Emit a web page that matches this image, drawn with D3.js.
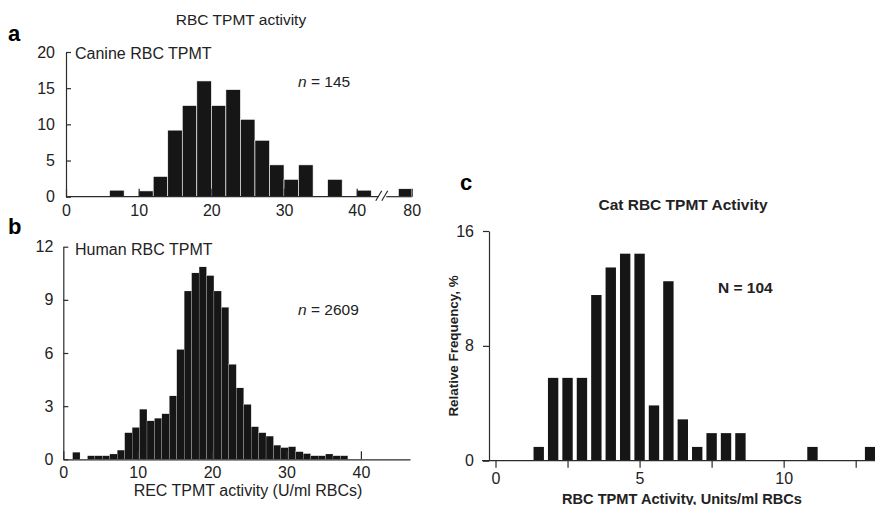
<!DOCTYPE html>
<html>
<head>
<meta charset="utf-8">
<script src="https://cdn.jsdelivr.net/npm/d3@7"></script>
<style>
    body { margin: 0; background: #fff; }
    svg { display: block; font-family: "Liberation Sans", Arial, Helvetica, sans-serif; }
</style>
</head>
<body>
<svg id="chart"></svg>
<script>
const width = 875;
const height = 505;

// panel a - canine, bins of 2 units (last bin after the axis break)
const canineStart = [6, 10, 12, 14, 16, 18, 20, 22, 24, 26, 28, 30, 32, 36, 40, 78];
const canineValue = [0.9, 0.8, 2.8, 9.2, 12.6, 16, 12.6, 14.8, 10.7, 7.8, 4.4, 2.4, 4.4, 2.4, 0.9, 1.1];
const canineBinWidth = 2;
const canineXTicks = [0, 10, 20, 30, 40, 80];
const canineYTicks = [0, 5, 10, 15, 20];

// panel b - human, bins of 1 unit starting at 1.25
const humanFirstBin = 1.25;
const humanValue = [0.4, 0, 0.2, 0.2, 0.2, 0.3, 0.52, 1.5, 1.8, 2.83, 2.17, 2.32, 2.57, 3.58, 6.2,
    9.5, 10.52, 10.86, 10.37, 9.5, 8.58, 5.36, 4.03, 3.1, 1.84, 1.5, 1.31, 0.8, 0.66, 0.71,
    0.43, 0.32, 0.2, 0.2, 0.3, 0.2, 0.2];
const humanXTicks = [0, 10, 20, 30, 40];
const humanYTicks = [0, 3, 6, 9, 12];

// panel c - cat, relative frequency %
const catCenter = [1.5, 2, 2.5, 3, 3.5, 4, 4.5, 5, 5.5, 6, 6.5, 7, 7.5, 8, 8.5, 11, 13];
const catPercent = [0.96, 5.77, 5.77, 5.77, 11.54, 13.46, 14.42, 14.42, 3.85, 12.5, 2.88, 0.96, 1.92, 1.92, 1.92, 0.96, 0.96];
const catXTicks = [0, 2.5, 5, 7.5, 10, 12.5];
const catXLabels = [0, 5, 10];
const catYTicks = [0, 8, 16];

const barColor = "#161616";
const axisColor = "#2b2b2b";

const svg = d3.select("#chart")
    .attr("width", width)
    .attr("height", height)
    .attr("viewBox", [0, 0, width, height]);

function styleAxis(g, size) {
    g.selectAll("line").attr("stroke", axisColor).attr("stroke-width", 1.2);
    g.selectAll("path").attr("stroke", axisColor).attr("stroke-width", 1.2);
    g.selectAll("text").attr("font-size", size + "px").attr("fill", "#222").attr("font-family", null);
}

// ---------------- panel a ----------------
const xa = d3.scaleLinear().domain([0, 43, 76, 80]).range([66, 378.5, 385, 411.7]);
const ya = d3.scaleLinear().domain([0, 20]).range([196.7, 52]);

svg.append("g")
    .selectAll("rect")
    .data(canineStart)
    .join("rect")
    .attr("x", d => xa(d))
    .attr("y", (d, i) => ya(canineValue[i]))
    .attr("width", d => xa(d + canineBinWidth) - xa(d))
    .attr("height", (d, i) => ya(0) - ya(canineValue[i]))
    .attr("fill", barColor)
    .attr("stroke", "#fff")
    .attr("stroke-width", 0.6);

const gyA = svg.append("g")
    .attr("transform", `translate(${xa(0)},0)`)
    .call(d3.axisLeft(ya).tickValues(canineYTicks).tickSize(-5).tickSizeOuter(0).tickPadding(11));
styleAxis(gyA, 16);

const gxA = svg.append("g")
    .attr("transform", `translate(0,${ya(0)})`)
    .call(d3.axisBottom(xa).tickValues(canineXTicks).tickSize(-8).tickSizeOuter(0).tickPadding(7.5));
gxA.select(".domain").remove();
styleAxis(gxA, 16);

// x axis line with a break between 40 and 80
const breakX = (xa(43) + xa(76)) / 2;
svg.append("line")
    .attr("x1", xa(0)).attr("x2", breakX - 3.5)
    .attr("y1", ya(0)).attr("y2", ya(0))
    .attr("stroke", axisColor).attr("stroke-width", 1.2);
svg.append("line")
    .attr("x1", breakX + 4.5).attr("x2", xa(80))
    .attr("y1", ya(0)).attr("y2", ya(0))
    .attr("stroke", axisColor).attr("stroke-width", 1.2);
[-3, 3].forEach(off => {
    svg.append("line")
        .attr("x1", breakX + off - 3).attr("y1", ya(0) + 4)
        .attr("x2", breakX + off + 3).attr("y2", ya(0) - 6)
        .attr("stroke", axisColor).attr("stroke-width", 1.2);
});

svg.append("text")
    .attr("x", 241).attr("y", 24.5)
    .attr("text-anchor", "middle")
    .attr("font-size", "15.5px")
    .attr("fill", "#222")
    .text("RBC TPMT activity");

svg.append("text")
    .attr("x", 8).attr("y", 40.5)
    .attr("font-size", "22px").attr("font-weight", "bold")
    .text("a");

svg.append("text")
    .attr("x", 75).attr("y", 58.5)
    .attr("font-size", "16px").attr("fill", "#222")
    .text("Canine RBC TPMT");

const nA = svg.append("text")
    .attr("x", 298).attr("y", 86.5)
    .attr("font-size", "15.5px").attr("fill", "#222");
nA.append("tspan").attr("font-style", "italic").text("n");
nA.append("tspan").text(" = 145");

// ---------------- panel b ----------------
const xb = d3.scaleLinear().domain([0, 46.6]).range([63.3, 410]);
const yb = d3.scaleLinear().domain([0, 12]).range([459.3, 246.7]);

svg.append("g")
    .selectAll("rect")
    .data(humanValue)
    .join("rect")
    .attr("x", (d, i) => xb(humanFirstBin + i))
    .attr("y", d => yb(d))
    .attr("width", xb(1) - xb(0))
    .attr("height", d => yb(0) - yb(d))
    .attr("fill", barColor)
    .attr("stroke", "#fff")
    .attr("stroke-width", 0.2);

const gyB = svg.append("g")
    .attr("transform", `translate(${xb(0)},0)`)
    .call(d3.axisLeft(yb).tickValues(humanYTicks).tickSize(-5).tickSizeOuter(0).tickPadding(10));
styleAxis(gyB, 16);

const gxB = svg.append("g")
    .attr("transform", `translate(0,${yb(0)})`)
    .call(d3.axisBottom(xb).tickValues(humanXTicks).tickSize(-8).tickSizeOuter(0).tickPadding(7));
styleAxis(gxB, 16);

svg.append("text")
    .attr("x", 8).attr("y", 233.5)
    .attr("font-size", "22px").attr("font-weight", "bold")
    .text("b");

svg.append("text")
    .attr("x", 75).attr("y", 255)
    .attr("font-size", "16px").attr("fill", "#222")
    .text("Human RBC TPMT");

const nB = svg.append("text")
    .attr("x", 298).attr("y", 315)
    .attr("font-size", "15.5px").attr("fill", "#222");
nB.append("tspan").attr("font-style", "italic").text("n");
nB.append("tspan").text(" = 2609");

svg.append("text")
    .attr("x", 248).attr("y", 496)
    .attr("text-anchor", "middle")
    .attr("font-size", "16px").attr("fill", "#222")
    .text("REC TPMT activity (U/ml RBCs)");

// ---------------- panel c ----------------
const xc = d3.scaleLinear().domain([0, 13.17]).range([495.5, 875]);
const yc = d3.scaleLinear().domain([0, 16]).range([460.7, 231]);
const catHalf = 0.18;

svg.append("g")
    .selectAll("rect")
    .data(catCenter)
    .join("rect")
    .attr("x", d => xc(d - catHalf))
    .attr("y", (d, i) => yc(catPercent[i]))
    .attr("width", d => xc(d + catHalf) - xc(d - catHalf))
    .attr("height", (d, i) => yc(0) - yc(catPercent[i]))
    .attr("fill", barColor);

const gyC = svg.append("g")
    .attr("transform", "translate(489,0)")
    .call(d3.axisLeft(yc).tickValues(catYTicks).tickSize(6).tickSizeOuter(0).tickPadding(9));
styleAxis(gyC, 16);

const gxC = svg.append("g")
    .attr("transform", `translate(0,${yc(0)})`)
    .call(d3.axisBottom(xc).tickValues(catXTicks).tickSize(7).tickSizeOuter(0).tickPadding(5)
        .tickFormat(d => catXLabels.includes(d) ? d : ""));
gxC.select(".domain").remove();
styleAxis(gxC, 16);

svg.append("line")
    .attr("x1", 482).attr("x2", width)
    .attr("y1", yc(0)).attr("y2", yc(0))
    .attr("stroke", axisColor).attr("stroke-width", 1.2);

svg.append("text")
    .attr("x", 460).attr("y", 190)
    .attr("font-size", "22px").attr("font-weight", "bold")
    .text("c");

svg.append("text")
    .attr("x", 683).attr("y", 210)
    .attr("text-anchor", "middle")
    .attr("font-size", "15.5px").attr("font-weight", "bold").attr("fill", "#222")
    .text("Cat RBC TPMT Activity");

svg.append("text")
    .attr("x", 718).attr("y", 293)
    .attr("font-size", "15.5px").attr("font-weight", "bold").attr("fill", "#222")
    .text("N = 104");

svg.append("text")
    .attr("transform", "translate(458,346) rotate(-90)")
    .attr("text-anchor", "middle")
    .attr("font-size", "13.4px").attr("font-weight", "bold").attr("fill", "#222")
    .text("Relative Frequency, %");

svg.append("text")
    .attr("x", 682).attr("y", 503.5)
    .attr("text-anchor", "middle")
    .attr("font-size", "14.6px").attr("font-weight", "bold").attr("fill", "#222")
    .text("RBC TPMT Activity, Units/ml RBCs");
</script>
</body>
</html>
